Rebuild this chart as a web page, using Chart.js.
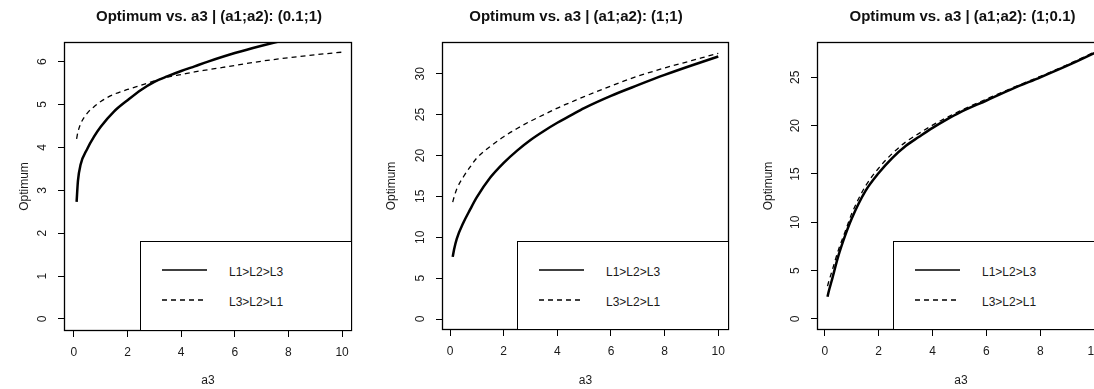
<!DOCTYPE html>
<html><head><meta charset="utf-8">
<script src="https://cdn.jsdelivr.net/npm/chart.js@4.4.1/dist/chart.umd.min.js"></script>
<style>
html,body{margin:0;padding:0;background:#fff;width:1094px;height:389px;overflow:hidden;}
#wrap{position:relative;width:1094px;height:389px;overflow:hidden;background:#fff;}
#wrap canvas{position:absolute;top:0;}
.legend{position:absolute;background:#fff;border:1px solid #000;box-sizing:border-box;font:12px "Liberation Sans",Arial,sans-serif;color:#1a1a1a;}
.legend svg{position:absolute;overflow:visible;}
.legend span{position:absolute;white-space:nowrap;line-height:14px;}
</style></head>
<body><div id="wrap"></div>
<script>
// ---- data ----
const a3 = [0.1, 0.15, 0.25, 0.5, 0.75, 1, 1.5, 2, 2.5, 3, 3.5, 4, 4.5, 5, 6, 7, 8, 9, 10];
// panel 1: (a1;a2) = (0.1;1)
const p1L123 = [2.73, 3.22, 3.60, 3.97, 4.25, 4.48, 4.84, 5.10, 5.34, 5.53, 5.66, 5.78, 5.89, 6.00, 6.20, 6.37, 6.52, 6.65, 6.77];
const p1L321 = [4.20, 4.36, 4.55, 4.80, 4.95, 5.07, 5.24, 5.35, 5.45, 5.55, 5.64, 5.70, 5.76, 5.81, 5.91, 6.01, 6.09, 6.16, 6.22];
// panel 2: (a1;a2) = (1;1)
const p2L123 = [7.6, 8.5, 9.8, 11.8, 13.4, 14.9, 17.3, 19.1, 20.6, 21.9, 23.0, 24.0, 24.9, 25.8, 27.3, 28.6, 29.85, 31.0, 32.1];
const p2L321 = [14.3, 14.9, 15.9, 17.4, 18.6, 19.7, 21.1, 22.3, 23.3, 24.2, 25.0, 25.8, 26.5, 27.2, 28.5, 29.7, 30.7, 31.6, 32.5];
// panel 3: (a1;a2) = (1;0.1)
const p3L123 = [2.3, 2.9, 3.9, 6.5, 8.6, 10.4, 13.2, 15.1, 16.65, 17.9, 18.85, 19.77, 20.6, 21.35, 22.6, 23.85, 25.0, 26.2, 27.5];
const p3L321 = [3.4, 3.9, 4.8, 7.1, 9.0, 10.9, 13.7, 15.6, 17.1, 18.3, 19.2, 20.05, 20.8, 21.5, 22.75, 23.95, 25.1, 26.3, 27.6];

const titles = ['Optimum vs. a3 | (a1;a2): (0.1;1)', 'Optimum vs. a3 | (a1;a2): (1;1)', 'Optimum vs. a3 | (a1;a2): (1;0.1)'];
const seriesLabels = ['L1>L2>L3', 'L3>L2>L1'];
const xLabel = 'a3';
const yLabel = 'Optimum';
const xTicks = [0, 2, 4, 6, 8, 10];
const yTicks1 = [0, 1, 2, 3, 4, 5, 6];
const yTicks2 = [0, 5, 10, 15, 20, 25, 30];
const yTicks3 = [0, 5, 10, 15, 20, 25];

// ---- layout (positions / styles) ----
const FONT = '"Liberation Sans", Arial, sans-serif';
const panels = [
  {series:[p1L123, p1L321], yTicks:yTicks1, title:titles[0], left:0,   width:418, plotLeft:64,  plotRight:352,  plotBottom:331, xMin:-0.37, xMax:10.37, yMin:-0.28, yMax:6.457, yPad:12,  yTitlePad:17.8, legLeft:140},
  {series:[p2L123, p2L321], yTicks:yTicks2, title:titles[1], left:365, width:422, plotLeft:442, plotRight:729,  plotBottom:330, xMin:-0.30, xMax:10.40, yMin:-1.345, yMax:33.88, yPad:8.6, yTitlePad:19.5, legLeft:517},
  {series:[p3L123, p3L321], yTicks:yTicks3, title:titles[2], left:729, width:467, plotLeft:817, plotRight:1105, plotBottom:330, xMin:-0.29, xMax:10.40, yMin:-1.14, yMax:28.65, yPad:8.6, yTitlePad:32.8, legLeft:893}
];

const boxPlugin = {
  id: 'rbox',
  afterDraw(chart) {
    const {ctx, chartArea: a} = chart;
    ctx.save();
    ctx.strokeStyle = '#000';
    ctx.lineWidth = 1.3;
    const l = Math.round(a.left), t = Math.round(a.top), r = Math.round(a.right), b = Math.round(a.bottom);
    ctx.strokeRect(l + 0.5, t + 0.5, r - l - 1, b - t - 1);
    ctx.restore();
  }
};

const wrap = document.getElementById('wrap');
const H = 389;
const tickColor = '#1a1a1a';

panels.forEach((p) => {
  const cv = document.createElement('canvas');
  cv.width = p.width; cv.height = H;
  cv.style.left = p.left + 'px';
  cv.style.width = p.width + 'px'; cv.style.height = H + 'px';
  wrap.appendChild(cv);

  const yAxisW = p.plotLeft - p.left;
  const xAxisH = H - p.plotBottom;
  const rightW = p.left + p.width - p.plotRight;

  new Chart(cv, {
    type: 'line',
    data: {
      datasets: [
        {label: seriesLabels[0], data: a3.map((x, i) => ({x, y: p.series[0][i]})),
         borderColor: '#000', borderWidth: 2.5, pointRadius: 0, cubicInterpolationMode: 'monotone', fill: false, xAxisID: 'x', yAxisID: 'y'},
        {label: seriesLabels[1], data: a3.map((x, i) => ({x, y: p.series[1][i]})),
         borderColor: '#000', borderWidth: 1.3, borderDash: [5, 4], pointRadius: 0, cubicInterpolationMode: 'monotone', fill: false, xAxisID: 'x', yAxisID: 'y'}
      ]
    },
    options: {
      responsive: false, animation: false, devicePixelRatio: 1,
      layout: {padding: 0},
      plugins: {
        legend: {display: false}, tooltip: {enabled: false},
        title: {display: true, text: p.title, color: '#111', font: {family: FONT, size: 15, weight: 'bold'}, padding: {top: 7.5, bottom: 16.5}}
      },
      scales: {
        x: {
          type: 'linear', position: 'bottom', min: p.xMin, max: p.xMax,
          afterFit: (s) => { s.height = xAxisH; },
          afterBuildTicks: (s) => { s.ticks = xTicks.map(v => ({value: v})); },
          ticks: {maxRotation: 0, minRotation: 0, padding: 8, color: tickColor, font: {family: FONT, size: 12}},
          grid: {display: true, drawOnChartArea: false, drawTicks: true, tickLength: 6, tickColor: '#000', tickWidth: 1},
          border: {display: false},
          title: {display: true, text: xLabel, color: tickColor, font: {family: FONT, size: 12}, padding: {top: 0, bottom: 1}}
        },
        y: {
          type: 'linear', position: 'left', min: p.yMin, max: p.yMax,
          afterFit: (s) => { s.width = yAxisW; },
          afterBuildTicks: (s) => { s.ticks = p.yTicks.map(v => ({value: v})); },
          ticks: {minRotation: 90, maxRotation: 90, crossAlign: 'center', padding: p.yPad, color: tickColor, font: {family: FONT, size: 12}},
          grid: {display: true, drawOnChartArea: false, drawTicks: true, tickLength: 6, tickColor: '#000', tickWidth: 1},
          border: {display: false},
          title: {display: true, text: yLabel, color: tickColor, font: {family: FONT, size: 12}, padding: {top: p.yTitlePad, bottom: 0}}
        },
        r: {
          type: 'linear', position: 'right', display: true,
          ticks: {display: false}, grid: {display: false}, border: {display: false},
          afterFit: (s) => { s.width = rightW; }
        }
      }
    },
    plugins: [boxPlugin]
  });

  // legend box (R style, bottom-right inside plot)
  const lg = document.createElement('div');
  lg.className = 'legend';
  lg.style.left = p.legLeft + 'px';
  lg.style.top = '241px';
  lg.style.width = (p.plotRight - p.legLeft) + 'px';
  lg.style.height = (p.plotBottom - 241) + 'px';
  const rows = [{y: 28.3, dash: null, w: 1.3}, {y: 58, dash: '5,4', w: 1.3}];
  rows.forEach((row, i) => {
    const svgNS = 'http://www.w3.org/2000/svg';
    const svg = document.createElementNS(svgNS, 'svg');
    svg.setAttribute('width', '46'); svg.setAttribute('height', '4');
    svg.style.left = '21px'; svg.style.top = (row.y - 2) + 'px';
    const ln = document.createElementNS(svgNS, 'line');
    ln.setAttribute('x1', '0'); ln.setAttribute('y1', '2');
    ln.setAttribute('x2', '45'); ln.setAttribute('y2', '2');
    ln.setAttribute('stroke', '#000'); ln.setAttribute('stroke-width', row.w);
    if (row.dash) ln.setAttribute('stroke-dasharray', row.dash);
    svg.appendChild(ln);
    lg.appendChild(svg);
    const sp = document.createElement('span');
    sp.textContent = seriesLabels[i];
    sp.style.left = '88px';
    sp.style.top = (row.y + 2 - 7) + 'px';
    lg.appendChild(sp);
  });
  wrap.appendChild(lg);
});
</script>
</body></html>
